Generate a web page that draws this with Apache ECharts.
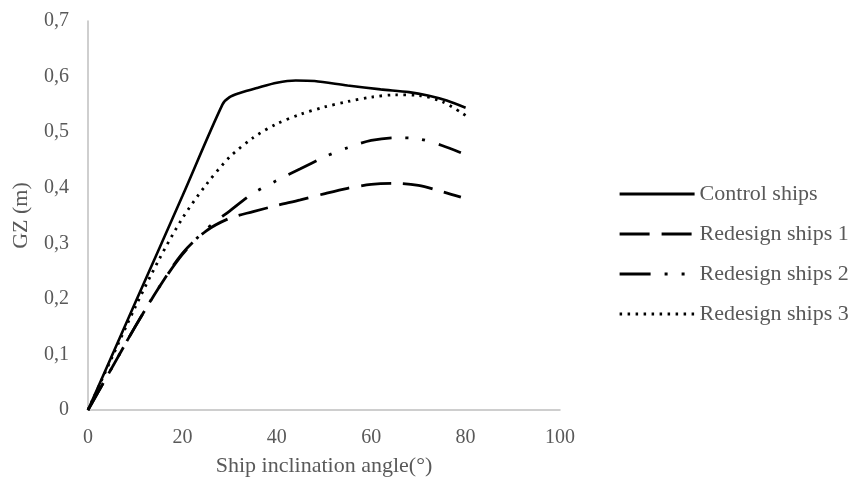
<!DOCTYPE html>
<html>
<head>
<meta charset="utf-8">
<script src="https://cdn.jsdelivr.net/npm/echarts@6/dist/echarts.min.js"></script>
<style>html,body{margin:0;padding:0;background:#fff}#c{width:857px;height:484px}</style>
</head>
<body>
<div id="c"></div>
<script>
const seriesNames = ['Control ships', 'Redesign ships 1', 'Redesign ships 2', 'Redesign ships 3'];
const controlShips = [[0,0],[10,0.193],[20,0.385],[28.5,0.55],[30,0.563],[32,0.570],[36,0.580],[40,0.589],[44,0.593],[48,0.592],[55,0.584],[62,0.577],[68,0.572],[72,0.566],[76,0.557],[80,0.544]];
const redesign1 = [[0,0],[5,0.075],[10,0.15],[15,0.22],[20,0.282],[25,0.322],[30,0.345],[35,0.357],[40,0.368],[45,0.378],[50,0.389],[55,0.399],[60,0.406],[65,0.408],[70,0.404],[75,0.393],[79,0.383]];
const redesign2 = [[0,0],[5,0.075],[10,0.15],[15,0.22],[20,0.28],[25,0.325],[30,0.358],[35,0.39],[40,0.413],[45,0.434],[50,0.455],[55,0.472],[60,0.485],[65,0.49],[70,0.488],[75,0.476],[79,0.463]];
const redesign3 = [[0,0],[5,0.093],[10,0.185],[15,0.27],[20,0.345],[25,0.405],[30,0.455],[35,0.49],[40,0.515],[45,0.532],[50,0.545],[55,0.555],[60,0.563],[65,0.567],[70,0.566],[75,0.555],[80,0.53]];
const xTicks = [0, 20, 40, 60, 80, 100];
const yTicks = [0, 0.1, 0.2, 0.3, 0.4, 0.5, 0.6, 0.7];

const font = 'Liberation Serif';
const txt = '#595959';
const chart = echarts.init(document.getElementById('c'));
function mk(name, data, type, width) {
  return {
    name, type: 'line', data, showSymbol: false, symbol: 'none', smooth: 0.3,
    lineStyle: { color: '#000', width: width, type: type, cap: 'butt' },
    itemStyle: { color: '#000' }
  };
}
chart.setOption({
  animation: false,
  grid: { left: 88, right: 297, top: 21, bottom: 74 },
  xAxis: {
    type: 'value', min: xTicks[0], max: xTicks[xTicks.length - 1], interval: 20,
    axisLine: { show: true, lineStyle: { color: '#bfbfbf', width: 1.5 } },
    axisTick: { show: false }, splitLine: { show: false },
    axisLabel: { color: txt, fontFamily: font, fontSize: 20, margin: 18 },
    name: 'Ship inclination angle(°)', nameLocation: 'middle', nameGap: 45,
    nameTextStyle: { color: txt, fontFamily: font, fontSize: 22 }
  },
  yAxis: {
    type: 'value', min: yTicks[0], max: yTicks[yTicks.length - 1], interval: 0.1,
    axisLine: { show: true, lineStyle: { color: '#bfbfbf', width: 1.5 } },
    axisTick: { show: false }, splitLine: { show: false },
    axisLabel: { color: txt, fontFamily: font, fontSize: 20, margin: 19,
      formatter: v => v === 0 ? '0' : v.toFixed(1).replace('.', ',') },
    name: 'GZ (m)', nameLocation: 'middle', nameGap: 56,
    nameTextStyle: { color: txt, fontFamily: font, fontSize: 22 }
  },
  legend: {
    orient: 'vertical', left: 618, top: 183, padding: 0, itemWidth: 75, itemHeight: 10, itemGap: 18,
    itemStyle: { opacity: 0 },
    lineStyle: { width: 3.2 },
    textStyle: { color: txt, fontFamily: font, fontSize: 22 },
    data: seriesNames
  },
  series: [
    mk(seriesNames[0], controlShips, 'solid', 2.6),
    mk(seriesNames[1], redesign1, [30, 12], 2.8),
    mk(seriesNames[2], redesign2, [31, 14, 3, 14, 3, 14], 2.8),
    mk(seriesNames[3], redesign3, [2.5, 5.5], 2.8)
  ]
});
</script>
</body>
</html>
